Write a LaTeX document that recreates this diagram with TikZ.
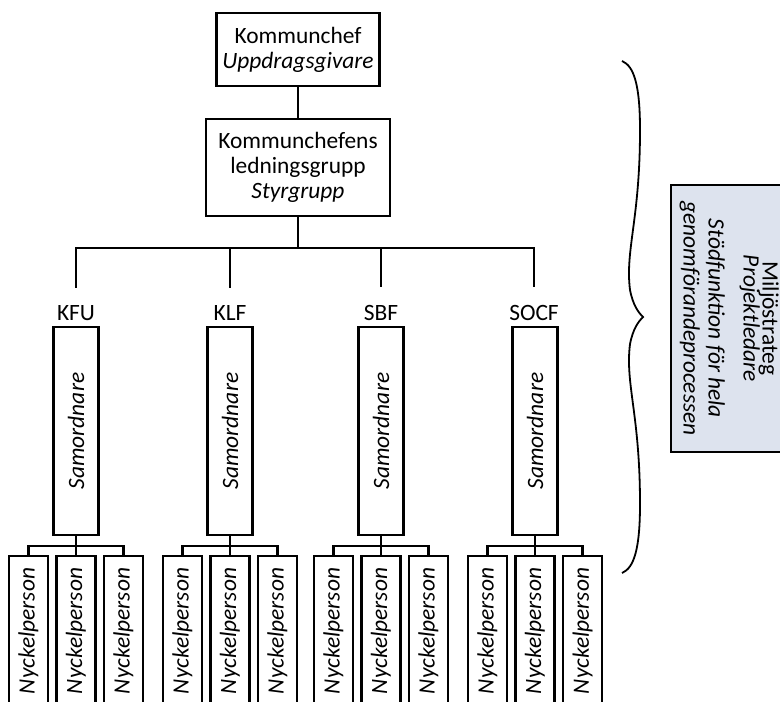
\documentclass[tikz,border=0pt]{standalone}
\usepackage{fontspec}
\setmainfont{Carlito}
\usepackage{graphicx}

\definecolor{stodfill}{RGB}{221,227,238}

\tikzset{
  box/.style={draw, line width=1.3pt, align=center, inner sep=1pt},
  conn/.style={line width=1.3pt},
  drop/.style={conn, shorten >=8.5pt},
  lbl/.style={inner sep=0pt, anchor=base},
  sam/.style={box, minimum width=22.5pt, minimum height=104pt, inner sep=0pt},
  np/.style={box, minimum width=19.5pt, minimum height=75pt, inner sep=0pt},
}

\begin{document}
\begin{tikzpicture}[x=0.5pt,y=-0.5pt,font=\fontsize{11.7}{12.5}\selectfont]

\useasboundingbox (0,0) rectangle (780,701);
\clip (0,0) rectangle (780,701);

% top of the organisation
\node[box, minimum width=81.5pt, minimum height=36.5pt] (chef) at (298,49.5) {Kommunchef\\\textit{Uppdragsgivare}};
\node[box, minimum width=92pt, minimum height=48.5pt] (grupp) at (298,167.5) {Kommunchefens\\ledningsgrupp\\\textit{Styrgrupp}};
\draw[conn] (chef) -- (grupp);

\coordinate (bar) at (298,248);
\coordinate (nbar) at (0,546);
\draw[conn] (grupp) -- (bar);

% departments
\node[lbl] (kfu) at (76,320) {KFU};
\node[lbl] (klf) at (230,320) {KLF};
\node[lbl] (sbf) at (381,320) {SBF};
\node[lbl] (socf) at (534,320) {SOCF};
\draw[drop] (bar) -| (kfu.north);
\draw[drop] (bar) -| (klf.north);
\draw[drop] (bar) -| (sbf.north);
\draw[drop] (bar) -| (socf.north);

\node[sam] (sam1) at (76,431) {\rotatebox{90}{\textit{Samordnare}}};
\node[sam] (sam2) at (230,431) {\rotatebox{90}{\textit{Samordnare}}};
\node[sam] (sam3) at (381,431) {\rotatebox{90}{\textit{Samordnare}}};
\node[sam] (sam4) at (535,431) {\rotatebox{90}{\textit{Samordnare}}};

% key persons, KFU
\node[np] (n1a) at (28.5,631) {\rotatebox{90}{\textit{Nyckelperson}}};
\node[np] (n1b) at (76,631) {\rotatebox{90}{\textit{Nyckelperson}}};
\node[np] (n1c) at (123.5,631) {\rotatebox{90}{\textit{Nyckelperson}}};
\draw[conn] (sam1) -- (sam1 |- nbar);
\draw[conn] (n1a) |- (sam1 |- nbar) -| (n1c);
\draw[conn] (sam1 |- nbar) -- (n1b);

% key persons, KLF
\node[np] (n2a) at (182.5,631) {\rotatebox{90}{\textit{Nyckelperson}}};
\node[np] (n2b) at (230,631) {\rotatebox{90}{\textit{Nyckelperson}}};
\node[np] (n2c) at (277.5,631) {\rotatebox{90}{\textit{Nyckelperson}}};
\draw[conn] (sam2) -- (sam2 |- nbar);
\draw[conn] (n2a) |- (sam2 |- nbar) -| (n2c);
\draw[conn] (sam2 |- nbar) -- (n2b);

% key persons, SBF
\node[np] (n3a) at (333.5,631) {\rotatebox{90}{\textit{Nyckelperson}}};
\node[np] (n3b) at (381,631) {\rotatebox{90}{\textit{Nyckelperson}}};
\node[np] (n3c) at (428.5,631) {\rotatebox{90}{\textit{Nyckelperson}}};
\draw[conn] (sam3) -- (sam3 |- nbar);
\draw[conn] (n3a) |- (sam3 |- nbar) -| (n3c);
\draw[conn] (sam3 |- nbar) -- (n3b);

% key persons, SOCF
\node[np] (n4a) at (487.5,631) {\rotatebox{90}{\textit{Nyckelperson}}};
\node[np] (n4b) at (535,631) {\rotatebox{90}{\textit{Nyckelperson}}};
\node[np] (n4c) at (582.5,631) {\rotatebox{90}{\textit{Nyckelperson}}};
\draw[conn] (sam4) -- (sam4 |- nbar);
\draw[conn] (n4a) |- (sam4 |- nbar) -| (n4c);
\draw[conn] (sam4 |- nbar) -- (n4b);

% brace and support function
\draw[line width=0.9pt] (622,61) .. controls (634,66) and (640,85) .. (640,130)
  .. controls (640,220) and (625,250) .. (630,290)
  .. controls (633,305) and (638,312) .. (643,317)
  .. controls (638,322) and (633,329) .. (630,344)
  .. controls (625,384) and (640,414) .. (640,504)
  .. controls (640,549) and (634,568) .. (622,573);
\node[draw, line width=1.1pt, fill=stodfill, minimum width=57pt, minimum height=133.5pt, inner sep=0pt] (strateg) at (728,318.5)
  {\rotatebox{-90}{\begin{tabular}{@{}c@{}}Milj\"ostrateg\\[-3pt]\textit{Projektledare}\\[5pt]\textit{St\"odfunktion f\"or hela}\\\textit{genomf\"orandeprocessen}\end{tabular}}};

\end{tikzpicture}
\end{document}
